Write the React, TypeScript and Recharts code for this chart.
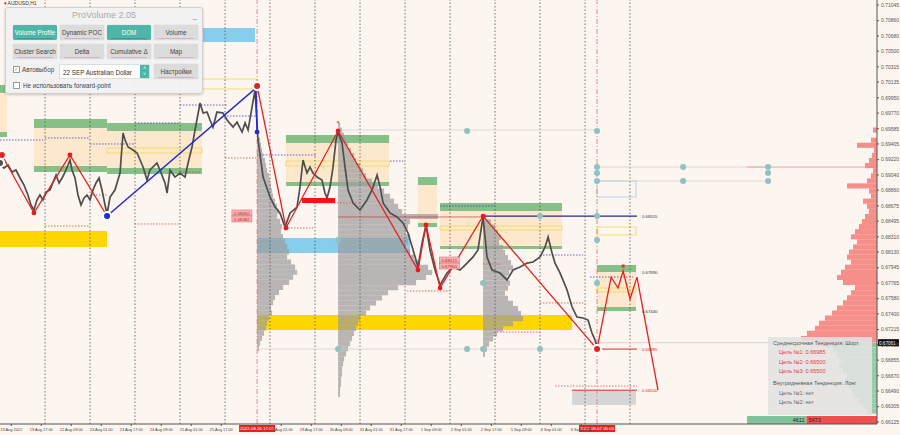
import {
  ComposedChart, Line, XAxis, YAxis, ReferenceArea, ReferenceLine, ReferenceDot, Scatter,
} from "recharts";

// time axis is in trading hours since 19 Aug 2022 00:00, price axis AUD/USD
const X_MIN = -5;
const X_MAX = 462.7;
const Y_MIN = 0.66101;
const Y_MAX = 0.71104;

const yTicks = [
  0.71045, 0.7086, 0.7068, 0.705, 0.70315, 0.70135, 0.6995, 0.6977, 0.69585, 0.69405,
  0.6922, 0.6904, 0.6886, 0.68675, 0.68495, 0.6831, 0.6813, 0.67945, 0.67765, 0.6758,
  0.674, 0.67215, 0.67035, 0.66855, 0.6667, 0.6649, 0.66305, 0.66125,
];

const tickHours = [1, 17, 33, 49, 65, 81, 97, 113, 145, 161, 177, 193, 209, 225, 241, 257, 273, 289, 305];
const tickLabels = [
  "19 Aug 2022", "19 Aug 17:00", "22 Aug 09:00", "23 Aug 01:00", "23 Aug 17:00", "24 Aug 09:00",
  "25 Aug 01:00", "25 Aug 17:00", "29 Aug 01:00", "29 Aug 17:00", "30 Aug 09:00",
  "31 Aug 01:00", "31 Aug 17:00", "1 Sep 09:00", "2 Sep 01:00", "2 Sep 17:00", "5 Sep 09:00",
  "6 Sep 01:00", "6 Sep 17:00",
];
const daySeparators = [19, 43, 67, 91, 115, 139, 163, 187, 211, 235, 259, 283, 307, 331];

const priceHours = [
  -5, -2.9, -0.7, 1.4, 3.5, 5.7, 7.8, 9.9, 11.5, 13.1, 14.7, 16.3, 17.9, 19.5, 21.7, 23.3, 24.9,
  26.5, 28.1, 29.7, 31.3, 32.3, 33.4, 35, 36.6, 38.2, 39.8, 41.4, 43, 44.6, 46.2, 47.8, 49.4, 51, 52.1,
  53.7, 56.3, 59, 60.6, 61.7, 63.3, 65.9, 68.1, 71.3, 73.4, 75, 78.7, 80.3, 83, 84.1, 85.7, 88.3, 91,
  93.7, 95.3, 97.4, 99, 101.7, 103.3, 105.4, 107, 108.6, 110.7, 113.9, 116.1, 119.3, 121.4, 124.1,
  125.7, 127.3, 129.4, 131,
  132.6, 135.3, 139, 141.7, 144.3, 147, 149.7, 153.4, 155, 156.6, 158.7, 160.3, 161.9, 164.1, 166.7,
  168.3, 169.4, 171, 172.6, 174.2, 175.3,
  177.4, 179, 180.6, 183.3, 187, 190.7, 193.4, 196.1, 197.7, 199.3, 203, 206.7, 209.9, 212.6, 215.3, 217.9,
  220.1, 222.2, 224.3, 227, 229.7, 233.4, 236.6, 240.3, 244.1, 247.3, 249.9, 251.5, 252.6,
  254.7, 257.4, 261.7, 265.4, 268.6, 272.3, 276.1, 279.3, 283, 285.7, 287.3, 289.4, 291, 293.7, 297.4,
  300.1, 302.7, 305.9, 308.6, 310.7, 312.3, 313.4,
];
const priceClose = [
  0.69181, 0.69122, 0.69157, 0.69074, 0.69098, 0.69004, 0.68921, 0.68803, 0.68685, 0.68626, 0.68744,
  0.68803, 0.68744, 0.68838, 0.68862, 0.68956, 0.69039, 0.68945, 0.69004, 0.69074, 0.69157, 0.69216,
  0.69098, 0.69004, 0.68803, 0.68685, 0.68768, 0.68803, 0.68744, 0.68862, 0.68945, 0.69004, 0.68862,
  0.68685, 0.68579,
  0.68779, 0.68862, 0.69063, 0.69535, 0.69452, 0.69369, 0.69334, 0.69299, 0.69133, 0.6898, 0.69098,
  0.69181, 0.69098, 0.68945, 0.68827, 0.69098, 0.69015, 0.69063, 0.69015, 0.69181, 0.69369, 0.6957,
  0.69889, 0.69771, 0.69782, 0.69688, 0.69605, 0.69782, 0.69771, 0.69688, 0.69605, 0.69664, 0.69546,
  0.69653, 0.6957, 0.69841, 0.70042,
  0.69452, 0.69015, 0.68779, 0.68661, 0.68591, 0.68425, 0.68591, 0.68661, 0.68898, 0.69216, 0.69063,
  0.69133, 0.69063, 0.69015, 0.6898, 0.68827, 0.68768, 0.68898, 0.69133, 0.69452, 0.69546,
  0.69417, 0.69133, 0.68862, 0.68709, 0.68626, 0.68744, 0.68862, 0.69039, 0.68898, 0.68709, 0.68591,
  0.68544, 0.68473, 0.68355, 0.68154, 0.67953,
  0.68237, 0.68449, 0.68154, 0.67918, 0.67741, 0.67882, 0.67953, 0.67918, 0.68, 0.68072, 0.68154,
  0.6839, 0.68544,
  0.68072, 0.67918, 0.67882, 0.678, 0.67918, 0.67953, 0.68, 0.68012, 0.68072, 0.6819, 0.68308, 0.68119,
  0.68, 0.67882, 0.67682, 0.67481, 0.67363, 0.67352, 0.67328, 0.67175, 0.67094, 0.6701,
];

// zigzag swings
const zigAHours = [-4, 13.1, 32.3, 52.1];
const zigAPrices = [0.69275, 0.68591, 0.69275, 0.68555];
const zigBHours = [132.1, 147.5, 175.3, 217.9, 222.2, 229.7, 252.6, 313.4];
const zigBPrices = [0.70089, 0.68414, 0.69558, 0.67918, 0.68449, 0.67706, 0.68555, 0.66985];
const blueHours = [52.1, 131.5, 132.1];
const bluePrices = [0.68555, 0.70066, 0.69546];
const forecastHours = [313.4, 320.9, 324.6, 327.3, 331, 334.7, 345.9];
const forecastPrices = [0.66985, 0.67834, 0.67706, 0.67906, 0.67576, 0.67834, 0.66502];

// zones: start, end, top, top inner, bottom inner, bottom
const zones = [
  [-5, -1.3, 0.70101, 0.70007, 0.69546, 0.69487],
  [13.1, 52.1, 0.697, 0.69594, 0.69145, 0.69074],
  [52.1, 102.7, 0.69653, 0.69558, 0.69122, 0.69051],
  [147.5, 202.5, 0.69511, 0.69417, 0.68956, 0.68909],
  [217.9, 228.1, 0.69015, 0.68921, 0.68473, 0.68425],
  [229.7, 294.7, 0.68709, 0.68614, 0.68201, 0.68166],
  [313.4, 334.2, 0.67977, 0.67894, 0.67481, 0.67434],
];
const yellowBoxes = [
  [52.1, 102.7, 0.69358, 0.69299],
  [147.5, 202.5, 0.69204, 0.69145],
  [229.7, 294.7, 0.68437, 0.6839],
  [313.4, 334.2, 0.67706, 0.67658],
  [313.4, 334.2, 0.68425, 0.68331],
  [102.7, 132.1, 0.70172, 0.70054],
];
const goldZones = [[-5, 52.1, 0.68378, 0.6819], [132.1, 300.1, 0.67387, 0.6721]];
const skyZones = [[99.5, 131, 0.70774, 0.70608], [132.1, 213.7, 0.68296, 0.68119]];

// volume profiles: base hour, top level, volume per level
const LEVEL = 0.0006;
const VOL_SCALE = 0.5333;
const profile1 = [3, 4, 5, 6, 8, 9, 10, 12, 13, 14, 15, 16, 18, 20, 22, 20, 23, 25, 24, 26, 28, 30, 32, 30, 34, 38, 40, 36, 32, 26, 22, 18, 16, 14, 15, 12, 10, 9, 7, 5, 3, 2];
const profile2 = [2, 4, 6, 8, 10, 13, 16, 18, 22, 25, 28, 34, 40, 46, 52, 56, 60, 64, 100, 72, 70, 68, 72, 70, 68, 72, 76, 82, 90, 94, 88, 78, 60, 50, 44, 38, 32, 28, 22, 20, 18, 16, 14, 12, 10, 8, 6, 5, 4, 4, 3, 3, 2, 2];
const profile3 = [3, 8, 12, 15, 18, 16, 20, 22, 25, 28, 30, 26, 24, 27, 25, 22, 25, 30, 35, 38, 40, 30, 20, 14, 10, 6, 4, 2];
const askVolume = [4, 0, 6, 20, 3, 5, 8, 12, 4, 6, 10, 30, 8, 6, 14, 10, 8, 12, 15, 18, 22, 26, 20, 24, 28, 30, 26, 32, 36, 40, 34, 22, 26, 30, 34, 40, 45, 52, 58, 62, 70, 76, 60];
const bidVolume = [50, 44, 40, 36, 38, 34, 30, 32, 28, 25, 22, 18, 14, 10];

const bluePocs = [
  [-5, 17.9, 0.69452], [19, 43, 0.69476], [43, 67, 0.69405], [67, 91, 0.69653], [91, 116, 0.69865],
  [116, 132, 0.69735], [132, 164, 0.69275], [203, 210, 0.69204], [229.7, 259, 0.68673],
  [283, 306, 0.68095], [309.7, 332.6, 0.67835],
];
const redPocs = [
  [19, 43, 0.68437], [43, 52, 0.68803], [67, 91, 0.68461], [91, 101.7, 0.69074], [115, 132, 0.6924],
  [147, 162, 0.68414], [162, 187, 0.68709], [212, 235, 0.6767], [260, 283, 0.67186], [283, 306, 0.67529],
  [252.6, 261.7, 0.67989],
];

const tealHours = [313.4, 313.4, 313.4, 313.4, 359.3, 359.3, 404.6, 404.6, 404.6, 313.4, 313.4, 313.4, 244.1, 175.3, 175.3, 244.1, 252.6, 252.6, 283, 283];
const tealPrices = [0.69558, 0.69133, 0.69063, 0.68968, 0.69133, 0.68968, 0.69133, 0.69063, 0.68968, 0.68555, 0.68272, 0.67765, 0.69558, 0.68272, 0.66986, 0.66986, 0.67765, 0.66986, 0.68555, 0.66986];

const lastPrice = 0.67061;
const buyVolume = 4611;
const sellVolume = 5473;

const toPoints = (hs: number[], ps: number[]) => hs.map((h, i) => ({ h, p: ps[i] }));
const priceData = toPoints(priceHours, priceClose);
const tealData = toPoints(tealHours, tealPrices);

const FONT = "'Liberation Sans', 'DejaVu Sans', sans-serif";
const BG = "#fdf5ef";

function profileBars(key: string, base: number, top: number, vols: number[], fill: string, opacity: number, fromRight = false) {
  return vols.map((v, i) => {
    if (!v) return null;
    const p = top - i * LEVEL;
    const len = v * VOL_SCALE;
    return (
      <ReferenceArea key={`${key}${i}`} x1={fromRight ? base - len : base} x2={fromRight ? base : base + len}
        y1={p - LEVEL * 0.5} y2={p + LEVEL * 0.5} fill={fill} fillOpacity={opacity} stroke="none" />
    );
  });
}

function TimeTag({ viewBox, text }: any) {
  if (!viewBox) return null;
  const x = viewBox.x;
  const y = viewBox.y + viewBox.height + 1;
  return (
    <g>
      <rect x={x - 18} y={y} width={36} height={7} fill="#e52222" />
      <text x={x} y={y + 5.3} fontSize={4.4} fill="#fff" textAnchor="middle" fontFamily={FONT}>{text}</text>
    </g>
  );
}

function Button({ label, on, x, y }: { label: string; on?: boolean; x: number; y: number }) {
  return (
    <div style={{
      position: "absolute", left: x, top: y, width: 44, height: 15, borderRadius: 2,
      background: on ? "#4db6a9" : "#dcdcdc", color: on ? "#fff" : "#444",
      fontSize: 6.3, lineHeight: "15px", textAlign: "center", fontFamily: FONT,
      boxShadow: "0 0 1px rgba(0,0,0,0.3)",
    }}>
      {label}
      <div style={{ position: "absolute", left: 4, right: 4, bottom: 1, height: 1, background: on ? "#2f8f84" : "#c9a0a0", opacity: 0.6 }} />
    </div>
  );
}

function ProVolumePanel() {
  return (
    <div style={{
      position: "absolute", left: 5, top: 7, width: 196, height: 85, background: "rgba(241,241,241,0.96)",
      border: "1px solid #d0d0d0", borderRadius: 3, boxShadow: "0 1px 3px rgba(0,0,0,0.2)", fontFamily: FONT,
    }}>
      <div style={{ position: "absolute", top: 2, width: "100%", textAlign: "center", fontSize: 9, color: "#a9a9a9" }}>ProVolume 2.05</div>
      <div style={{ position: "absolute", right: 5, top: 3, fontSize: 8, color: "#888" }}>_</div>
      <Button label="Volume Profile" on x={7} y={17} />
      <Button label="Dynamic POC" x={54} y={17} />
      <Button label="DOM" on x={101} y={17} />
      <Button label="Volume" x={148} y={17} />
      <Button label="Cluster Search" x={7} y={36} />
      <Button label="Delta" x={54} y={36} />
      <Button label="Cumulative Δ" x={101} y={36} />
      <Button label="Map" x={148} y={36} />
      <div style={{ position: "absolute", left: 7, top: 58, fontSize: 6.3, color: "#444", display: "flex", alignItems: "center", gap: 2 }}>
        <span style={{ width: 5, height: 5, border: "1px solid #999", background: "#fff", fontSize: 5, lineHeight: "5px", color: "#4db6a9" }}>✓</span>
        Автовыбор
      </div>
      <div style={{
        position: "absolute", left: 53, top: 56, width: 91, height: 15, background: "#fff", border: "1px solid #ddd",
        fontSize: 6.3, lineHeight: "15px", color: "#333", paddingLeft: 3, boxSizing: "border-box",
      }}>
        22 SEP Australian Dollar
        <div style={{ position: "absolute", right: 0, top: 0, width: 9, height: 13, background: "#4db6a9", color: "#fff", fontSize: 5, lineHeight: "6px", textAlign: "center" }}>˄<br />˅</div>
      </div>
      <Button label="Настройки" x={148} y={56} />
      <div style={{ position: "absolute", left: 7, top: 74, fontSize: 6.3, color: "#444", display: "flex", alignItems: "center", gap: 3 }}>
        <span style={{ width: 5, height: 5, border: "1px solid #999", background: "#fff" }} />
        Не использовать forward-point
      </div>
    </div>
  );
}

function InfoBox() {
  const row = (t: string, c: string, indent: number, top: number) => (
    <div style={{ position: "absolute", left: indent, top, fontSize: 5.5, color: c, whiteSpace: "nowrap" }}>{t}</div>
  );
  return (
    <div style={{ position: "absolute", left: 768, top: 337, width: 104, height: 78, background: "rgba(226,226,226,0.88)", fontFamily: FONT }}>
      {row("Среднесрочная Тенденция: Шорт", "#555", 5, 3)}
      {row("Цель №1: 0.66985", "#e23b3b", 11, 12)}
      {row("Цель №2: 0.66500", "#e23b3b", 11, 21.5)}
      {row("Цель №3: 0.65500", "#e23b3b", 11, 31)}
      {row("Внутридневная Тенденция: Лонг", "#555", 5, 43)}
      {row("Цель №1: нет", "#666", 11, 52.5)}
      {row("Цель №2: нет", "#666", 11, 62)}
    </div>
  );
}

export default function App() {
  const split = 393.4 + (X_MAX - 393.4) * (buyVolume / (buyVolume + sellVolume));
  return (
    <div style={{ position: "fixed", left: 0, top: 0, width: 900, height: 435, background: BG, overflow: "hidden" }}>
      <ComposedChart width={900} height={435} margin={{ top: 0, right: 0, left: 0, bottom: 0 }}>
        <XAxis dataKey="h" type="number" domain={[X_MIN, X_MAX]} allowDataOverflow ticks={tickHours} interval={0}
          tickFormatter={(h: number) => tickLabels[tickHours.indexOf(h)] ?? ""} height={11} tickSize={2}
          tick={{ fontSize: 3.9, fill: "#444", fontFamily: FONT }} stroke="#555" />
        <YAxis dataKey="p" type="number" orientation="right" domain={[Y_MIN, Y_MAX]} allowDataOverflow ticks={yTicks}
          interval={0} width={23} tickSize={2} tickFormatter={(v: number) => v.toFixed(5)}
          tick={{ fontSize: 5, fill: "#555", fontFamily: FONT }} stroke="#555" />

        {daySeparators.map((h) => (
          <ReferenceLine key={`d${h}`} x={h} stroke="#555" strokeDasharray="1.5 2" strokeWidth={0.8} />
        ))}

        {goldZones.map(([a, b, t, u], i) => (
          <ReferenceArea key={`g${i}`} x1={a} x2={b} y1={u} y2={t} fill="#ffd600" fillOpacity={1} stroke="none" />
        ))}
        {skyZones.map(([a, b, t, u], i) => (
          <ReferenceArea key={`s${i}`} x1={a} x2={b} y1={u} y2={t} fill="#87cdec" fillOpacity={1} stroke="none" />
        ))}
        {zones.map(([a, b, t, ti, bi, bo], i) => [
          <ReferenceArea key={`zb${i}`} x1={a} x2={b} y1={bi} y2={ti} fill="#fde7c9" fillOpacity={0.9} stroke="none" />,
          <ReferenceArea key={`zt${i}`} x1={a} x2={b} y1={ti} y2={t} fill="#86bf88" fillOpacity={1} stroke="none" />,
          <ReferenceArea key={`zl${i}`} x1={a} x2={b} y1={bo} y2={bi} fill="#86bf88" fillOpacity={1} stroke="none" />,
        ])}
        {yellowBoxes.map(([a, b, t, u], i) => (
          <ReferenceArea key={`y${i}`} x1={a} x2={b} y1={u} y2={t} fill="none" stroke="#f0d84a" strokeWidth={0.8} />
        ))}
        <ReferenceArea x1={313.4} x2={334.2} y1={0.68779} y2={0.68968} fill="none" stroke="#9fcbe6" strokeWidth={0.8} />
        <ReferenceArea x1={156.1} x2={173.7} y1={0.68709} y2={0.68768} fill="#ff1010" fillOpacity={1} stroke="none" />
        <ReferenceArea x1={300.1} x2={334.2} y1={0.66325} y2={0.66502} fill="#d6d6d6" fillOpacity={1} stroke="none" />

        {profileBars("p1", 132.1, 0.69452, profile1, "#9c9c9c", 0.72)}
        {profileBars("p2", 175.3, 0.69629, profile2, "#9c9c9c", 0.72)}
        {profileBars("p3", 252.6, 0.68544, profile3, "#9c9c9c", 0.72)}
        {profileBars("ask", X_MAX, 0.6957, askVolume, "#f47b78", 0.85, true)}
        {profileBars("bid", X_MAX, 0.67033, bidVolume, "#85c79d", 0.85, true)}

        {bluePocs.map(([a, b, p], i) => (
          <ReferenceLine key={`bp${i}`} segment={[{ x: a, y: p }, { x: b, y: p }]} stroke="#3340c8" strokeDasharray="1.5 1.5" strokeWidth={0.8} />
        ))}
        {redPocs.map(([a, b, p], i) => (
          <ReferenceLine key={`rp${i}`} segment={[{ x: a, y: p }, { x: b, y: p }]} stroke="#d84848" strokeDasharray="1.5 1.5" strokeWidth={0.8} />
        ))}
        <ReferenceLine segment={[{ x: 175.3, y: 0.6957 }, { x: 313.4, y: 0.6957 }]} stroke="#d8d0cc" strokeWidth={0.8} />
        <ReferenceLine segment={[{ x: 132.1, y: 0.66986 }, { x: 313.4, y: 0.66986 }]} stroke="#d8d0cc" strokeWidth={0.8} />
        <ReferenceLine segment={[{ x: 313.4, y: 0.69133 }, { x: 404.6, y: 0.69133 }]} stroke="#d0d0d0" strokeWidth={0.8} />
        <ReferenceLine segment={[{ x: 313.4, y: 0.68968 }, { x: 404.6, y: 0.68968 }]} stroke="#d0d0d0" strokeWidth={0.8} />
        <ReferenceLine segment={[{ x: 393.4, y: 0.69133 }, { x: X_MAX, y: 0.69133 }]} stroke="#f08a8a" strokeWidth={0.8} />
        <ReferenceLine segment={[{ x: 309.7, y: lastPrice }, { x: X_MAX, y: lastPrice }]} stroke="#cfcfcf" strokeWidth={0.8} />
        <ReferenceLine segment={[{ x: 175.3, y: 0.68544 }, { x: 252.6, y: 0.68544 }]} stroke="#c04040" strokeWidth={0.7} />

        <ReferenceLine segment={[{ x: 252.6, y: 0.68555 }, { x: 334.7, y: 0.68555 }]} stroke="#262b8c" strokeWidth={1.2}
          label={{ value: "0.68555", position: "right", fontSize: 4.3, fill: "#333", fontFamily: FONT }} />
        <ReferenceLine segment={[{ x: 313.4, y: 0.67894 }, { x: 334.7, y: 0.67894 }]} stroke="none"
          label={{ value: "0.67890", position: "right", fontSize: 4.3, fill: "#333", fontFamily: FONT }} />
        <ReferenceLine segment={[{ x: 313.4, y: 0.67434 }, { x: 334.7, y: 0.67434 }]} stroke="none"
          label={{ value: "0.67440", position: "right", fontSize: 4.3, fill: "#333", fontFamily: FONT }} />
        <ReferenceLine segment={[{ x: 313.4, y: 0.66985 }, { x: 334.7, y: 0.66985 }]} stroke="#e02a2a" strokeWidth={1}
          label={{ value: "0.66985", position: "right", fontSize: 4.3, fill: "#e02a2a", fontFamily: FONT }} />
        <ReferenceLine segment={[{ x: 291, y: 0.66549 }, { x: 334.7, y: 0.66549 }]} stroke="#e05050" strokeDasharray="1.5 1.5" strokeWidth={0.8} />
        <ReferenceLine segment={[{ x: 300.1, y: 0.665 }, { x: 334.7, y: 0.665 }]} stroke="#e02a2a" strokeWidth={1}
          label={{ value: "0.66500", position: "right", fontSize: 4.3, fill: "#e02a2a", fontFamily: FONT }} />

        <ReferenceLine x={132.1} stroke="#e27a7a" strokeDasharray="5 2 1 2" strokeWidth={0.9} label={<TimeTag text="2022.08.26 17:00" />} />
        <ReferenceLine x={313.4} stroke="#e27a7a" strokeDasharray="5 2 1 2" strokeWidth={0.9} label={<TimeTag text="2022.09.07 06:00" />} />

        <ReferenceArea x1={393.4} x2={split} y1={Y_MIN} y2={0.66195} fill="#7fc39a" fillOpacity={1} stroke="none" />
        <ReferenceArea x1={split} x2={X_MAX} y1={Y_MIN} y2={0.66195} fill="#f14e4e" fillOpacity={1} stroke="none" />
        <ReferenceDot x={split} y={0.66148} r={0} isFront shape={(p: any) => (
          <g fontFamily={FONT} fontSize={5.5} fill="#222">
            <text x={p.cx - 2} y={p.cy + 2} textAnchor="end">{buyVolume}</text>
            <text x={p.cx + 2} y={p.cy + 2}>{sellVolume}</text>
          </g>
        )} />

        <Line data={priceData} dataKey="p" stroke="#4e4e4e" strokeWidth={1.7} dot={false} isAnimationActive={false} />
        <Line data={toPoints(zigAHours, zigAPrices)} dataKey="p" stroke="#e02222" strokeWidth={1.3}
          dot={{ r: 2.4, fill: "#f01818", stroke: "none" }} isAnimationActive={false} />
        <Line data={toPoints(zigBHours, zigBPrices)} dataKey="p" stroke="#e02222" strokeWidth={1.3}
          dot={{ r: 2.4, fill: "#f01818", stroke: "none" }} isAnimationActive={false} />
        <Line data={toPoints(forecastHours, forecastPrices)} dataKey="p" stroke="#e02222" strokeWidth={1.3}
          dot={false} isAnimationActive={false} />
        <Line data={toPoints(blueHours, bluePrices)} dataKey="p" stroke="#1f2bd8" strokeWidth={1.5}
          dot={{ r: 2.4, fill: "#1f2bd8", stroke: "none" }} isAnimationActive={false} />
        <Scatter data={tealData} dataKey="p" fill="#8fc3c2" shape={(p: any) => <circle cx={p.cx} cy={p.cy} r={3} fill="#8fc3c2" />} isAnimationActive={false} />
        <ReferenceDot x={313.4} y={0.66985} r={2.6} fill="#3b7fc0" stroke="none" isFront />

        <ReferenceDot x={175.3} y={0.69664} r={0} isFront shape={(p: any) => (
          <text x={p.cx} y={p.cy + 2} fontSize={6} fill="#e03030" textAnchor="middle" fontFamily={FONT}>×</text>
        )} />
        <ReferenceDot x={327.3} y={0.67965} r={0} isFront shape={(p: any) => (
          <rect x={p.cx - 1.5} y={p.cy - 1.5} width={3} height={3} fill="#e03030" />
        )} />
        {[[124, 0.68591, "0.68450"], [124, 0.6852, "0.68382"], [234.6, 0.68036, "0.68015"], [234.6, 0.67965, "0.67960"]].map(([h, p, t], i) => (
          <ReferenceDot key={`lt${i}`} x={h as number} y={p as number} r={0} isFront shape={(s: any) => (
            <g>
              <rect x={s.cx - 10} y={s.cy - 3} width={20} height={6} fill="#f6b3b3" stroke="#e06060" strokeWidth={0.5} />
              <text x={s.cx} y={s.cy + 1.8} fontSize={4.3} fill="#c02020" textAnchor="middle" fontFamily={FONT}>{t}</text>
            </g>
          )} />
        ))}
        <ReferenceDot x={X_MAX} y={lastPrice} r={0} isFront shape={(p: any) => (
          <g>
            <rect x={p.cx + 1} y={p.cy - 3.5} width={21} height={7} fill="#111" />
            <text x={p.cx + 2} y={p.cy + 2} fontSize={4.6} fill="#fff" fontFamily={FONT}>{lastPrice.toFixed(5)}</text>
          </g>
        )} />
      </ComposedChart>

      <div style={{ position: "absolute", left: 4, top: 0, fontSize: 5, color: "#333", fontFamily: FONT }}>▾ AUDUSD,H1</div>
      <ProVolumePanel />
      <InfoBox />
    </div>
  );
}
